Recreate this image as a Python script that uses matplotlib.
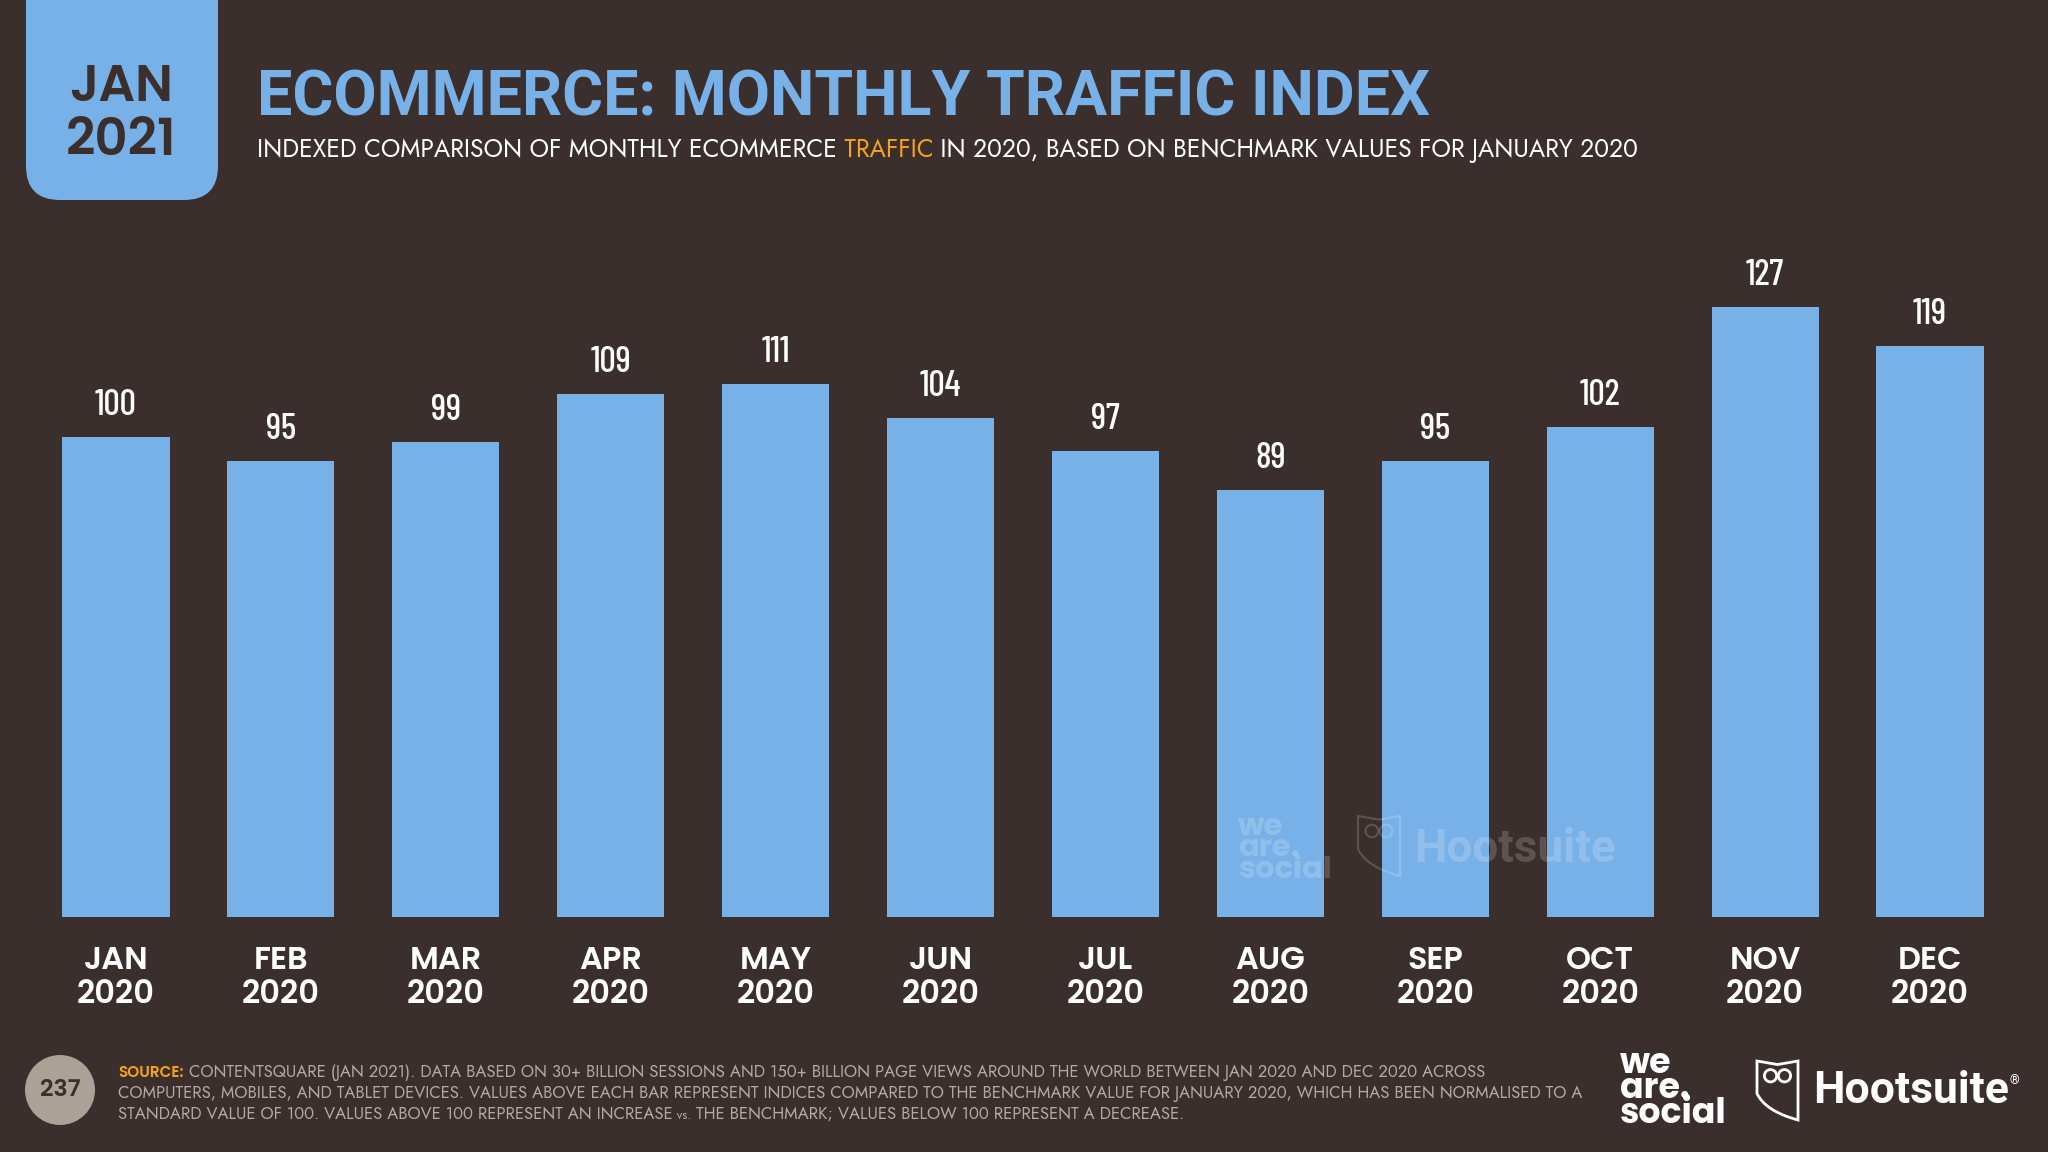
import matplotlib
matplotlib.use('Agg')

import matplotlib.pyplot as plt
from matplotlib.patches import FancyBboxPatch, Ellipse, PathPatch, Circle
from matplotlib.path import Path

# colours
BG = '#3a2f2d'
BLUE = '#78b1e8'
ORANGE = '#f5a31a'
GREY = '#b3aaa1'

# data
months = ['JAN', 'FEB', 'MAR', 'APR', 'MAY', 'JUN', 'JUL', 'AUG', 'SEP', 'OCT', 'NOV', 'DEC']
years = ['2020'] * 12
index_values = [100, 95, 99, 109, 111, 104, 97, 89, 95, 102, 127, 119]

TITLE_F = ['Roboto', 'DejaVu Sans']
GEO = ['Poppins', 'Roboto', 'DejaVu Sans']
BOOK = ['Jost', 'Roboto', 'DejaVu Sans']
COND = ['Barlow Condensed', 'Roboto', 'DejaVu Sans']

fig = plt.figure(figsize=(20.48, 11.52), dpi=100)
fig.patch.set_facecolor(BG)

# chart axes
ax = fig.add_axes([33.5 / 2048, 235 / 1152, 1979 / 2048, 672 / 1152])
ax.set_facecolor('none')
ax.bar(range(len(index_values)), index_values, width=0.65, color=BLUE, zorder=2)
ax.set_xlim(-0.5, len(index_values) - 0.5)
ax.set_ylim(0, 140)
for s in ax.spines.values():
    s.set_visible(False)
ax.set_xticks([])
ax.set_yticks([])

for i, v in enumerate(index_values):
    ax.annotate(str(v), (i, v), xytext=(0, 15.8), textcoords='offset points',
                ha='center', va='baseline', fontsize=26, color='white', family=COND,
                fontweight='medium')
    ax.annotate(months[i], (i, 0), xytext=(0, -37.4), textcoords='offset points',
                ha='center', va='baseline', fontsize=23, color='white',
                family=GEO, fontweight='semibold', annotation_clip=False)
    ax.annotate(years[i], (i, 0), xytext=(0, -61.9), textcoords='offset points',
                ha='center', va='baseline', fontsize=23, color='white',
                family=GEO, fontweight='semibold', annotation_clip=False)

# overlay in pixel coordinates
bg = fig.add_axes([0, 0, 1, 1])
bg.set_xlim(0, 2048)
bg.set_ylim(1152, 0)
bg.axis('off')
bg.set_facecolor('none')

renderer = fig.canvas.get_renderer()


def put_line(x, y, parts, size, target=None):
    texts = []
    for s, kw in parts:
        kw = dict(kw)
        scale = kw.pop('scale', 1.0)
        t = bg.text(x, y, s, fontsize=size * scale, va='baseline', ha='left', **kw)
        t._scale = scale
        texts.append(t)
    if target:
        total = sum(t.get_window_extent(renderer).width for t in texts)
        size = size * target / total
        for t in texts:
            t.set_fontsize(size * t._scale)
    cur = x
    for t in texts:
        t.set_x(cur)
        cur += t.get_window_extent(renderer).width
    return size


# date box
box = FancyBboxPatch((26, -60), 192, 260, boxstyle='round,pad=0,rounding_size=34',
                     facecolor=BLUE, edgecolor='none')
bg.add_patch(box)
bg.text(121, 101, 'JAN', ha='center', va='baseline', fontsize=37, fontweight='semibold',
        color=BG, family=GEO)
bg.text(121, 155, '2021', ha='center', va='baseline', fontsize=37, fontweight='semibold',
        color=BG, family=GEO)

# title + subtitle
put_line(257, 115, [('ECOMMERCE: MONTHLY TRAFFIC INDEX',
                     dict(color=BLUE, fontweight='bold', family=TITLE_F))], 44, target=1174)
sub_kw = dict(color='white', family=BOOK)
put_line(257, 157, [('INDEXED COMPARISON OF MONTHLY ECOMMERCE', sub_kw),
                    (' TRAFFIC', dict(sub_kw, color=ORANGE)),
                    (' IN 2020, BASED ON BENCHMARK VALUES FOR JANUARY 2020', sub_kw)],
         17, target=1382)

# footer
bg.add_patch(Ellipse((60, 1090), 70, 70, facecolor='#aaa197', edgecolor='none'))
bg.text(60, 1091, '237', ha='center', va='center', fontsize=17, fontweight='semibold',
        color=BG, family=GEO)

foot_kw = dict(color=GREY, family=BOOK)
fs = put_line(118, 1098, [('COMPUTERS, MOBILES, AND TABLET DEVICES. VALUES ABOVE EACH BAR '
                           'REPRESENT INDICES COMPARED TO THE BENCHMARK VALUE FOR JANUARY 2020, '
                           'WHICH HAS BEEN NORMALISED TO A', foot_kw)], 12, target=1464)
put_line(118, 1077, [('SOURCE:', dict(color=ORANGE, fontweight='semibold', family=GEO, scale=0.92)),
                     (' CONTENTSQUARE (JAN 2021). DATA BASED ON 30+ BILLION SESSIONS AND 150+ '
                      'BILLION PAGE VIEWS AROUND THE WORLD BETWEEN JAN 2020 AND DEC 2020 ACROSS',
                      foot_kw)], fs)
put_line(118, 1119, [('STANDARD VALUE OF 100. VALUES ABOVE 100 REPRESENT AN INCREASE', foot_kw),
                     (' vs.', dict(foot_kw, scale=0.75)),
                     (' THE BENCHMARK; VALUES BELOW 100 REPRESENT A DECREASE.', foot_kw)], fs)


def owl(x0, y0, w, h, color, alpha=1.0, lw=2):
    verts = [(x0, y0), (x0 + w * 0.5, y0 + h * 0.06), (x0 + w, y0),
             (x0 + w, y0 + h), (x0 + w * 0.2, y0 + h * 0.85), (x0, y0 + h * 0.55),
             (x0, y0)]
    codes = [Path.MOVETO, Path.LINETO, Path.LINETO, Path.LINETO,
             Path.CURVE3, Path.CURVE3, Path.CLOSEPOLY]
    bg.add_patch(PathPatch(Path(verts, codes), facecolor='none', edgecolor=color,
                           lw=lw, alpha=alpha))
    for ex in (0.33, 0.67):
        bg.add_patch(Circle((x0 + w * ex, y0 + h * 0.25), w * 0.15, facecolor='none',
                            edgecolor=color, lw=lw, alpha=alpha))


# logos (baseline refers to the last line)
bg.text(1620, 1123, 'we\nare.\nsocial', ha='left', va='baseline', fontsize=25,
        fontweight='bold', color='white', family=GEO, linespacing=0.62)
owl(1757, 1061, 41, 59, 'white')
bg.text(1813, 1103, 'Hootsuite', ha='left', va='baseline', fontsize=32, fontweight='bold',
        color='white', family=TITLE_F)
bg.text(2010, 1084, '®', ha='left', va='baseline', fontsize=9, color='white', family=TITLE_F)

# watermark
bg.text(1238, 878, 'we\nare.\nsocial', ha='left', va='baseline', fontsize=22,
        fontweight='bold', color='white', alpha=0.18, family=GEO, linespacing=0.62)
owl(1358, 816, 42, 60, 'white', alpha=0.18, lw=1.5)
bg.text(1414, 862, 'Hootsuite', ha='left', va='baseline', fontsize=33, fontweight='bold',
        color='white', alpha=0.18, family=TITLE_F)

fig.savefig('out.png', dpi=100, facecolor=BG)
